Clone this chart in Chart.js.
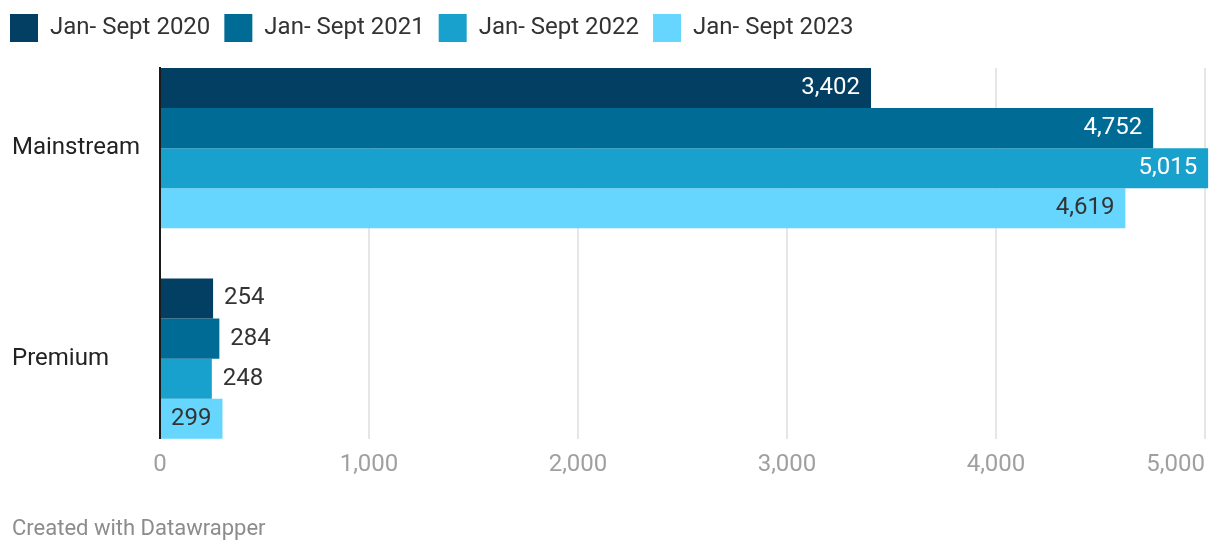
<!DOCTYPE html>
<html><head><meta charset="utf-8">
<script src="https://cdn.jsdelivr.net/npm/chart.js@4.4.1/dist/chart.umd.min.js"></script>
<style>html,body{margin:0;padding:0;background:#fff;}</style>
</head><body>
<canvas id="c" width="1220" height="552"></canvas>
<script>
// ---- data ----
const categories = ['Mainstream', 'Premium'];
const seriesNames = ['Jan- Sept 2020', 'Jan- Sept 2021', 'Jan- Sept 2022', 'Jan- Sept 2023'];
const values2020 = [3402, 254];
const values2021 = [4752, 284];
const values2022 = [5015, 248];
const values2023 = [4619, 299];
const xTickValues = [0, 1000, 2000, 3000, 4000, 5000];
const footerText = 'Created with Datawrapper';

// ---- styles ----
const colors = ['#023f63', '#006b94', '#19a1cd', '#66d6ff'];
const insideLabelColors = ['#ffffff', '#ffffff', '#ffffff', '#333333'];
const FONT = 'Roboto, sans-serif';
const FS = 24;
const PAD = 11;
const FIT_PAD = 10;

Chart.defaults.font.family = FONT;

class PadCategory extends Chart.CategoryScale {
  buildTicks() {
    const t = super.buildTicks();
    const pad = this.options.edgePad;
    if (typeof pad === 'number') {
      this._startValue = this.min - pad;
      this._valueRange = (this.max - this.min) + 2 * pad;
    }
    return t;
  }
}
PadCategory.id = 'padcat';
PadCategory.defaults = Chart.CategoryScale.defaults;
Chart.register(PadCategory);

const valueLabels = {
  id: 'valueLabels',
  afterDatasetsDraw(chart) {
    const ctx = chart.ctx;
    ctx.save();
    ctx.font = FS + 'px ' + FONT;
    ctx.textBaseline = 'middle';
    chart.data.datasets.forEach((ds, di) => {
      const meta = chart.getDatasetMeta(di);
      meta.data.forEach((bar, i) => {
        const txt = ds.data[i].toLocaleString('en-US');
        const w = ctx.measureText(txt).width;
        const len = bar.x - bar.base;
        if (w + 2 * FIT_PAD <= len) {
          ctx.textAlign = 'right';
          ctx.fillStyle = insideLabelColors[di];
          ctx.fillText(txt, bar.x - PAD, bar.y);
        } else {
          ctx.textAlign = 'left';
          ctx.fillStyle = '#333333';
          ctx.fillText(txt, bar.x + PAD, bar.y);
        }
      });
    });
    ctx.restore();
  }
};

const tweaks = {
  id: 'tweaks',
  afterLayout(chart) {
    const lp = chart.options.plugins.legend.labels.padding;
    chart.legend.left = 10 - lp;
    chart.legend.top = 14 - lp;
  },
  beforeDraw(chart) {
    const items = chart.scales.x.getLabelItems();
    if (items.length) items[items.length - 1].options.textAlign = 'right';
  }
};

const seriesValues = [values2020, values2021, values2022, values2023];

new Chart(document.getElementById('c'), {
  type: 'bar',
  data: {
    labels: categories,
    datasets: seriesNames.map((name, i) => ({
      label: name,
      data: seriesValues[i],
      backgroundColor: colors[i],
      borderWidth: 0,
      clip: false,
      categoryPercentage: 160 / 210,
      barPercentage: 1
    }))
  },
  options: {
    indexAxis: 'y',
    responsive: false,
    animation: false,
    devicePixelRatio: 1,
    layout: { padding: { top: 16, left: 12, right: 15, bottom: 0 } },
    scales: {
      x: {
        type: 'linear',
        min: 0, max: 5000,
        afterBuildTicks: (s) => { s.ticks = xTickValues.map(v => ({ value: v })); },
        afterFit: (s) => { s.paddingRight = 0; },
        ticks: {
          color: '#a0a0a0',
          font: { size: FS, family: FONT },
          padding: 12,
          maxRotation: 0,
          callback: (v) => Number(v).toLocaleString('en-US')
        },
        grid: {
          drawTicks: false,
          lineWidth: 2,
          color: (c) => (c.tick && c.tick.value === 0) ? 'rgba(0,0,0,0)' : '#e6e6e6'
        },
        border: { display: false }
      },
      y: {
        type: 'padcat',
        offset: true,
        edgePad: 80 / 210,
        z: 1,
        afterFit: (s) => { s.width = 148; },
        ticks: {
          color: '#222222',
          font: { size: FS, family: FONT },
          crossAlign: 'far',
          padding: 0
        },
        grid: { display: false, drawTicks: false },
        border: { display: true, color: '#1a1a1a', width: 2 }
      }
    },
    plugins: {
      legend: {
        position: 'top',
        align: 'start',
        labels: {
          boxWidth: 28,
          boxHeight: 28,
          padding: 14,
          color: '#333333',
          font: { size: FS, family: FONT }
        }
      },
      subtitle: {
        display: true,
        text: footerText,
        position: 'bottom',
        align: 'start',
        color: '#8c8c8c',
        font: { size: 22, family: FONT, weight: 'normal' },
        padding: { top: 25, bottom: 9 }
      },
      tooltip: { enabled: false }
    }
  },
  plugins: [valueLabels, tweaks]
});
</script>
</body></html>
